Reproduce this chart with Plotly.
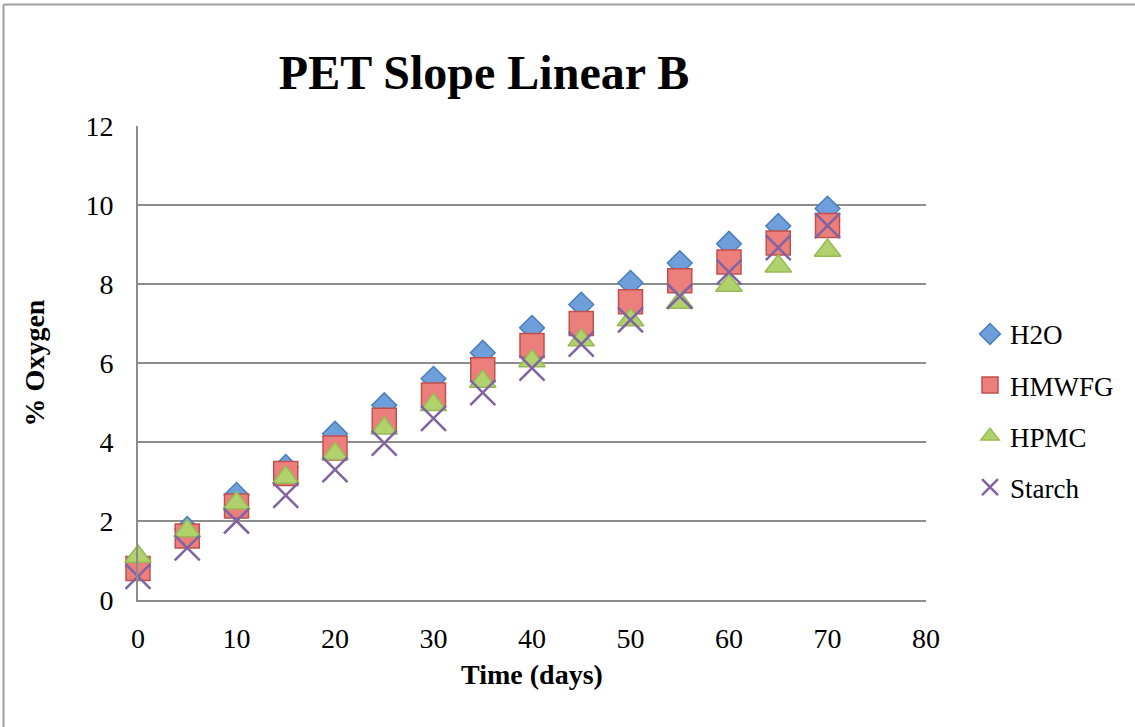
import plotly.graph_objects as go

days = [0, 5, 10, 15, 20, 25, 30, 35, 40, 45, 50, 55, 60, 65, 70]
h2o = [0.85, 1.80, 2.66, 3.37, 4.21, 4.93, 5.60, 6.26, 6.89, 7.48, 8.03, 8.53, 9.02, 9.47, 9.91]
hmwfg = [0.80, 1.62, 2.38, 3.20, 3.85, 4.55, 5.19, 5.83, 6.44, 7.00, 7.55, 8.08, 8.56, 9.04, 9.48]
hpmc = [1.10, 1.75, 2.45, 3.10, 3.70, 4.35, 4.94, 5.53, 6.05, 6.58, 7.09, 7.53, 7.96, 8.45, 8.85]
starch = [0.60, 1.32, 2.00, 2.65, 3.30, 3.97, 4.60, 5.25, 5.87, 6.48, 7.09, 7.69, 8.30, 8.92, 9.48]

FONT = "Liberation Serif"

fig = go.Figure()
fig.add_trace(go.Scatter(x=days, y=h2o, name="H2O", mode="markers", legendgroup="a", cliponaxis=False,
                         marker=dict(symbol="diamond", size=19, color="#6E9FDA",
                                     line=dict(color="#4A7EBB", width=1.5))))
fig.add_trace(go.Scatter(x=days, y=hmwfg, name="HMWFG", mode="markers", legendgroup="b", cliponaxis=False,
                         marker=dict(symbol="square", size=24, color="#EC7E7B",
                                     line=dict(color="#C0504D", width=1.5))))
fig.add_trace(go.Scatter(x=days, y=hpmc, name="HPMC", mode="markers", legendgroup="c", cliponaxis=False,
                         marker=dict(symbol="triangle-up", size=23, color="#B0D26C",
                                     line=dict(color="#98B954", width=1.5))))
fig.add_trace(go.Scatter(x=days, y=starch, name="Starch", mode="markers", legendgroup="d", cliponaxis=False,
                         marker=dict(symbol="x-thin", size=25, color="#8064A2",
                                     line=dict(color="#8064A2", width=2.5))))

L, R, T, B = 138, 209, 126, 127
W, H = 1135, 727
pw, ph = W - L - R, H - T - B

fig.update_layout(
    width=W, height=H,
    margin=dict(l=L, r=R, t=T, b=B),
    paper_bgcolor="white", plot_bgcolor="white",
    font=dict(family=FONT, size=27, color="black"),
    title=dict(text="<b>PET Slope Linear B</b>", font=dict(family=FONT, size=48, color="black"),
               x=484 / W, xref="container", xanchor="center",
               y=1 - 72 / H, yref="container", yanchor="middle"),
    showlegend=True,
    legend=dict(x=(970 - L) / pw, xanchor="left", y=0.399, yanchor="middle",
                font=dict(family=FONT, size=27), tracegroupgap=13,
                bgcolor="rgba(0,0,0,0)"),
    xaxis=dict(range=[0, 80], dtick=10, tick0=0, showgrid=False, zeroline=False,
               showline=True, linecolor="#8C8C8C", linewidth=2, ticks="",
               ticklabelstandoff=12, tickfont=dict(family=FONT, size=28),
               title=dict(text="<b>Time (days)</b>", font=dict(family=FONT, size=28), standoff=12)),
    yaxis=dict(range=[0, 12], dtick=2, tick0=0, showgrid=True, gridcolor="#8C8C8C", gridwidth=2,
               zeroline=False, showline=True, linecolor="#8C8C8C", linewidth=2, ticks="",
               ticklabelstandoff=17, tickfont=dict(family=FONT, size=28),
               title=dict(text="<b>% Oxygen</b>", font=dict(family=FONT, size=28), standoff=33)),
)

# outer chart border (left and top edges visible)
fig.add_shape(type="line", xref="paper", yref="paper",
              x0=(3.5 - L) / pw, x1=(3.5 - L) / pw, y0=(H - T - 730) / ph, y1=(H - B - 4.5) / ph,
              line=dict(color="#A0A0A0", width=2))
fig.add_shape(type="line", xref="paper", yref="paper",
              x0=(3.5 - L) / pw, x1=(1140 - L) / pw, y0=(H - B - 4.5) / ph, y1=(H - B - 4.5) / ph,
              line=dict(color="#A0A0A0", width=2))

fig.write_html("out.html")
